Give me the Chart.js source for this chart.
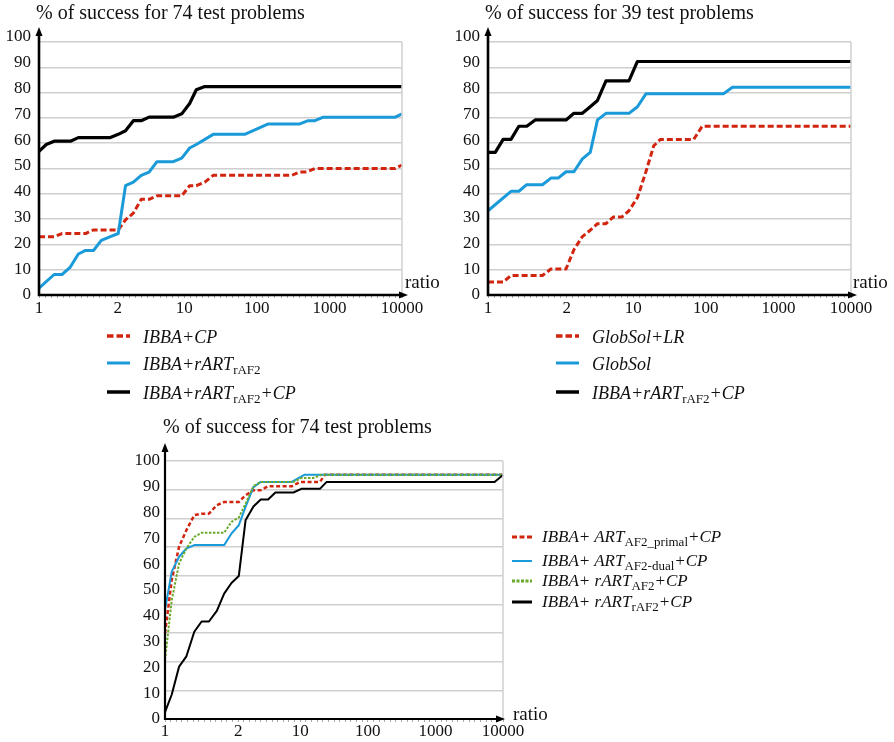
<!DOCTYPE html>
<html lang="en">
<head>
<meta charset="UTF-8">
<title>Performance profiles</title>
<script src="https://cdn.jsdelivr.net/npm/chart.js@4"></script>
<style>
    body {
        margin: 0;
        width: 894px;
        height: 742px;
        position: relative;
        overflow: hidden;
        background: #fff;
        font-family: "Liberation Serif", "Times New Roman", serif;
        color: #111;
    }
    canvas { position: absolute; }
    .row {
        position: absolute;
        height: 24px;
        width: 360px;
        font-style: italic;
        font-size: 18px;
        line-height: 24px;
        white-space: nowrap;
    }
    .row svg { position: absolute; left: 0; top: 9px; }
    .row .t { position: absolute; left: 36px; top: 1px; }
    .small .t { left: 30px; top: 0; }
    .small { font-size: 17px; }
    sub {
        font-style: normal;
        font-size: 13px;
        vertical-align: -4px;
        line-height: 0;
    }
</style>
</head>
<body>
<canvas id="c1" width="445" height="325" style="left:0;top:0"></canvas>
<canvas id="c2" width="449" height="325" style="left:445px;top:0"></canvas>
<canvas id="c3" width="440" height="342" style="left:120px;top:400px"></canvas>

<!-- legend, top left chart -->
<div class="row" style="left:107px;top:324px">
    <svg width="24" height="6"><line x1="0" y1="3" x2="23" y2="3" stroke="#d2250f" stroke-width="3.5" stroke-dasharray="6.5,3"/></svg>
    <span class="t">IBBA+CP</span>
</div>
<div class="row" style="left:107px;top:351px">
    <svg width="24" height="6"><line x1="0" y1="3" x2="23" y2="3" stroke="#1a9ad8" stroke-width="3"/></svg>
    <span class="t">IBBA+rART<sub>rAF2</sub></span>
</div>
<div class="row" style="left:107px;top:380px">
    <svg width="24" height="6"><line x1="0" y1="3" x2="23" y2="3" stroke="#000" stroke-width="3.5"/></svg>
    <span class="t">IBBA+rART<sub>rAF2</sub>+CP</span>
</div>

<!-- legend, top right chart -->
<div class="row" style="left:556px;top:324px">
    <svg width="24" height="6"><line x1="0" y1="3" x2="23" y2="3" stroke="#d2250f" stroke-width="3.5" stroke-dasharray="6.5,3"/></svg>
    <span class="t">GlobSol+LR</span>
</div>
<div class="row" style="left:556px;top:351px">
    <svg width="24" height="6"><line x1="0" y1="3" x2="23" y2="3" stroke="#1a9ad8" stroke-width="3"/></svg>
    <span class="t">GlobSol</span>
</div>
<div class="row" style="left:556px;top:380px">
    <svg width="24" height="6"><line x1="0" y1="3" x2="23" y2="3" stroke="#000" stroke-width="3.5"/></svg>
    <span class="t">IBBA+rART<sub>rAF2</sub>+CP</span>
</div>

<!-- legend, bottom chart -->
<div class="row small" style="left:512px;top:525px">
    <svg width="24" height="6"><line x1="0" y1="3" x2="20" y2="3" stroke="#d2250f" stroke-width="3" stroke-dasharray="5,2.5"/></svg>
    <span class="t">IBBA+ ART<sub>AF2_primal</sub>+CP</span>
</div>
<div class="row small" style="left:512px;top:549px">
    <svg width="24" height="6"><line x1="0" y1="3" x2="20" y2="3" stroke="#1a9ad8" stroke-width="2"/></svg>
    <span class="t">IBBA+ ART<sub>AF2-dual</sub>+CP</span>
</div>
<div class="row small" style="left:512px;top:569px">
    <svg width="24" height="6"><line x1="0" y1="3" x2="20" y2="3" stroke="#6aaa2a" stroke-width="3" stroke-dasharray="3,1.5"/></svg>
    <span class="t">IBBA+ rART<sub>AF2</sub>+CP</span>
</div>
<div class="row small" style="left:512px;top:590px">
    <svg width="24" height="6"><line x1="0" y1="3" x2="20" y2="3" stroke="#000" stroke-width="3"/></svg>
    <span class="t">IBBA+ rART<sub>rAF2</sub>+CP</span>
</div>

<script>
    // x axis: 60 evenly spaced ratio categories, labels only on some of them
    const xTickIndex = [0, 13, 24, 36, 48, 60];
    const xTickLabels = ['1', '2', '10', '100', '1000', '10000'];

    // [category index, % of success]
    // top left: 74 test problems
    const ibbaCp = [[0, 23], [2.5, 23], [3.8, 24.3], [7.7, 24.3], [9, 25.7], [13.1, 25.7], [14.3, 29.7],
        [15.6, 32.4], [16.9, 37.8], [18.2, 37.8], [19.5, 39.2], [23.6, 39.2], [24.9, 43.2], [26, 43.2],
        [27.4, 44.6], [28.8, 47.3], [41.8, 47.3], [43, 48.6], [44.2, 48.6], [45.6, 50], [58.9, 50], [60, 51.4]];
    const ibbaRart = [[0, 2.7], [2.5, 8.1], [3.8, 8.1], [5.1, 10.8], [6.5, 16.2], [7.7, 17.6], [9, 17.6],
        [10.3, 21.6], [11.7, 23], [13.1, 24.3], [14.3, 43.2], [15.6, 44.6], [16.9, 47.3], [18.2, 48.6],
        [19.5, 52.7], [22.2, 52.7], [23.6, 54.1], [24.9, 58.1], [26, 59.5], [28.8, 63.5], [34, 63.5],
        [37.9, 67.6], [43.1, 67.6], [44.5, 68.9], [45.6, 68.9], [47, 70.3], [58.9, 70.3], [60, 71.6]];
    const ibbaRartCp = [[0, 56.8], [1.2, 59.5], [2.5, 60.8], [5.2, 60.8], [6.5, 62.2], [11.7, 62.2],
        [13.1, 63.5], [14.3, 64.9], [15.6, 68.9], [16.9, 68.9], [18.2, 70.3], [22.2, 70.3], [23.6, 71.6],
        [24.9, 75.7], [26, 81.1], [27.4, 82.4], [60, 82.4]];

    // top right: 39 test problems
    const globSolLr = [[0, 5.1], [2.5, 5.1], [3.8, 7.7], [9, 7.7], [10.4, 10.3], [12.9, 10.3], [14.2, 17.9],
        [15.6, 23.1], [16.9, 25.6], [18.1, 28.2], [19.5, 28.2], [20.7, 30.8], [22.1, 30.8], [23.3, 33.3],
        [24.7, 38.5], [26.1, 48.7], [27.4, 59], [28.5, 61.5], [34, 61.5], [35.4, 66.7], [60, 66.7]];
    const globSol = [[0, 33.3], [3.8, 41], [5.1, 41], [6.4, 43.6], [9, 43.6], [10.4, 46.2], [11.6, 46.2],
        [12.9, 48.7], [14.2, 48.7], [15.6, 53.8], [16.9, 56.4], [18.1, 69.2], [19.5, 71.8], [23.3, 71.8],
        [24.7, 74.4], [26.1, 79.5], [38.9, 79.5], [40.4, 82.1], [60, 82.1]];
    const ibbaRartCp39 = [[0, 56.4], [1.2, 56.4], [2.5, 61.5], [3.8, 61.5], [5.1, 66.7], [6.4, 66.7],
        [7.8, 69.2], [12.9, 69.2], [14.2, 71.8], [15.6, 71.8], [16.9, 74.4], [18.1, 76.9], [19.5, 84.6],
        [23.3, 84.6], [24.7, 92.3], [60, 92.3]];

    // bottom: 74 test problems
    const artPrimal = [[0, 33.2], [1.2, 53.9], [2.5, 66.8], [3.8, 73.2], [5.2, 79], [6.5, 79.6], [7.8, 79.6],
        [9.2, 82.9], [10.5, 84.1], [13.1, 84.1], [14.3, 86.7], [15.7, 88.7], [17, 88.7], [18.3, 90.2],
        [22.5, 90.2], [24, 91.9], [27.5, 91.9], [28.4, 94.7], [60, 94.7]];
    const artDual = [[0, 42.3], [1.2, 57.1], [2.5, 62.9], [3.8, 66.1], [5.2, 67.4], [10.5, 67.4], [11.8, 71.9],
        [13.1, 75.1], [14.3, 82.2], [15.7, 89.9], [17, 91.9], [22.5, 91.9], [24.8, 94.7], [60, 94.7]];
    const rartAf2 = [[0, 22.9], [1.2, 46.1], [2.5, 60.3], [3.8, 66.1], [5.2, 70.6], [6.5, 72.2], [10.5, 72.2],
        [11.8, 76.4], [13.1, 78.1], [14.3, 83.5], [15.7, 90.2], [17, 91.9], [22.8, 91.9], [24.2, 93.4],
        [26.3, 93.4], [27.8, 94.7], [60, 94.7]];
    const rartRaf2 = [[0, 2.7], [1.2, 9.5], [2.5, 20.3], [3.8, 24.3], [5.2, 33.8], [6.5, 37.8], [7.8, 37.8],
        [9.2, 41.9], [10.5, 48.6], [11.8, 52.7], [13.1, 55.4], [14.3, 77], [15.7, 82.4], [17, 85.1],
        [18.3, 85.1], [19.6, 87.8], [22.8, 87.8], [24.2, 89.2], [27.5, 89.2], [28.7, 91.9], [58.5, 91.9],
        [60, 94.6]];

    const RED = '#d2250f', BLUE = '#1a9ad8', GREEN = '#6aaa2a', BLACK = '#000';
    const SERIF = '"Liberation Serif", "Times New Roman", serif';
    const GRID = '#cfcfcf';

    function line(points, color, width, dash) {
        return {
            data: points.map(p => ({ x: p[0], y: p[1] })),
            borderColor: color,
            borderWidth: width,
            borderDash: dash || [],
            borderJoinStyle: 'round',
            pointRadius: 0,
            tension: 0,
            fill: false,
            clip: 4
        };
    }

    // axes with arrows, right frame line, title and "ratio"
    const decoPlugin = {
        id: 'deco',
        afterDraw(chart, args, o) {
            const ctx = chart.ctx;
            const xs = chart.scales.x, ys = chart.scales.y;
            const left = xs.getPixelForValue(0), right = xs.getPixelForValue(60);
            const top = ys.getPixelForValue(100), bottom = ys.getPixelForValue(0);
            ctx.save();
            ctx.strokeStyle = GRID;
            ctx.lineWidth = 1.5;
            ctx.beginPath();
            ctx.moveTo(right, top);
            ctx.lineTo(right, bottom);
            ctx.stroke();

            ctx.strokeStyle = '#000';
            ctx.fillStyle = '#000';
            ctx.lineWidth = o.axisWidth;
            ctx.beginPath();
            ctx.moveTo(left, bottom);
            ctx.lineTo(left, o.arrowTop + 5);
            ctx.moveTo(left - o.axisWidth / 2, bottom);
            ctx.lineTo(o.arrowRight - 5, bottom);
            ctx.stroke();
            ctx.beginPath();
            ctx.moveTo(left, o.arrowTop);
            ctx.lineTo(left - 3.5, o.arrowTop + 9);
            ctx.lineTo(left + 3.5, o.arrowTop + 9);
            ctx.closePath();
            ctx.fill();
            ctx.beginPath();
            ctx.moveTo(o.arrowRight, bottom);
            ctx.lineTo(o.arrowRight - 9, bottom - 3.5);
            ctx.lineTo(o.arrowRight - 9, bottom + 3.5);
            ctx.closePath();
            ctx.fill();

            ctx.fillStyle = '#111';
            ctx.textAlign = 'left';
            ctx.textBaseline = 'middle';
            ctx.font = '20px ' + SERIF;
            ctx.fillText(o.title, o.titleX, o.titleY);
            ctx.font = '19px ' + SERIF;
            ctx.fillText('ratio', o.ratioX, o.ratioY);
            ctx.restore();
        }
    };

    function xScale(tickPad) {
        return {
            type: 'linear',
            position: 'bottom',
            min: 0,
            max: 60,
            border: { display: false },
            grid: { drawOnChartArea: false, drawTicks: true, tickLength: 3, color: '#a8a8a8', lineWidth: 1 },
            ticks: {
                stepSize: 1,
                autoSkip: false,
                maxRotation: 0,
                minRotation: 0,
                padding: tickPad,
                color: '#111',
                font: { family: SERIF, size: 17 },
                callback: v => {
                    const i = xTickIndex.indexOf(v);
                    return i >= 0 ? xTickLabels[i] : '';
                }
            }
        };
    }

    // top charts: grid lines follow the data scale, value labels are set slightly wider apart
    function topChart(id, datasets, title, g) {
        return new Chart(document.getElementById(id), {
            type: 'line',
            data: { datasets: datasets },
            plugins: [decoPlugin],
            options: {
                responsive: false,
                animation: false,
                events: [],
                devicePixelRatio: 1,
                layout: { padding: { left: 5, top: 37, right: g.padRight, bottom: 0 } },
                scales: {
                    x: Object.assign(xScale(0), { afterFit: s => { s.height = 30; } }),
                    y: {
                        type: 'linear', position: 'left', min: 0, max: 100 * 258 / 253,
                        border: { display: false },
                        grid: { color: GRID, lineWidth: 1.5, drawTicks: false },
                        ticks: { display: false, stepSize: 10, includeBounds: false },
                        afterFit: s => { s.width = 0; }
                    },
                    yLabels: {
                        type: 'linear', position: 'left', min: 0, max: 100,
                        border: { display: false },
                        grid: { display: false, drawTicks: false },
                        ticks: { stepSize: 10, padding: 8, color: '#111', font: { family: SERIF, size: 17 } },
                        afterFit: s => { s.width = g.axisWidth; }
                    }
                },
                plugins: {
                    legend: { display: false },
                    tooltip: { enabled: false },
                    deco: {
                        axisWidth: 2.6, arrowTop: 27, arrowRight: g.arrowRight,
                        title: title, titleX: g.titleX, titleY: 14,
                        ratioX: g.ratioX, ratioY: 283
                    }
                }
            }
        });
    }

    topChart('c1', [
        line(ibbaRartCp, BLACK, 3.2),
        line(ibbaRart, BLUE, 3),
        line(ibbaCp, RED, 3, [6, 3])
    ], '% of success for 74 test problems',
        { padRight: 43, axisWidth: 34, arrowRight: 408, titleX: 36, ratioX: 405 });

    topChart('c2', [
        line(ibbaRartCp39, BLACK, 3.2),
        line(globSol, BLUE, 3),
        line(globSolLr, RED, 3, [6, 3])
    ], '% of success for 39 test problems',
        { padRight: 43, axisWidth: 38, arrowRight: 412, titleX: 40, ratioX: 408 });

    // bottom chart: 9 decorative grid bands, labels on the data scale
    new Chart(document.getElementById('c3'), {
        type: 'line',
        data: {
            datasets: [
                line(rartRaf2, BLACK, 2),
                line(rartAf2, GREEN, 2, [2.5, 1.5]),
                line(artDual, BLUE, 2),
                line(artPrimal, RED, 2.5, [4, 2.5])
            ]
        },
        plugins: [decoPlugin],
        options: {
            responsive: false,
            animation: false,
            events: [],
            devicePixelRatio: 1,
            layout: { padding: { left: 0, top: 61, right: 57, bottom: 0 } },
            scales: {
                x: Object.assign(xScale(-1), { afterFit: s => { s.height = 23; } }),
                y: {
                    type: 'linear', position: 'left', min: 0, max: 100,
                    border: { display: false },
                    grid: { display: false, drawTicks: false },
                    ticks: { stepSize: 10, padding: 5, color: '#111', font: { family: SERIF, size: 17 } },
                    afterFit: s => { s.width = 45; }
                },
                yGrid: {
                    type: 'linear', position: 'left', min: 0, max: 9,
                    border: { display: false },
                    grid: { color: GRID, lineWidth: 1.5, drawTicks: false },
                    ticks: { display: false, stepSize: 1 },
                    afterFit: s => { s.width = 0; }
                }
            },
            plugins: {
                legend: { display: false },
                tooltip: { enabled: false },
                deco: {
                    axisWidth: 2.2, arrowTop: 43, arrowRight: 385,
                    title: '% of success for 74 test problems', titleX: 43, titleY: 28,
                    ratioX: 393, ratioY: 315
                }
            }
        }
    });
</script>
</body>
</html>
